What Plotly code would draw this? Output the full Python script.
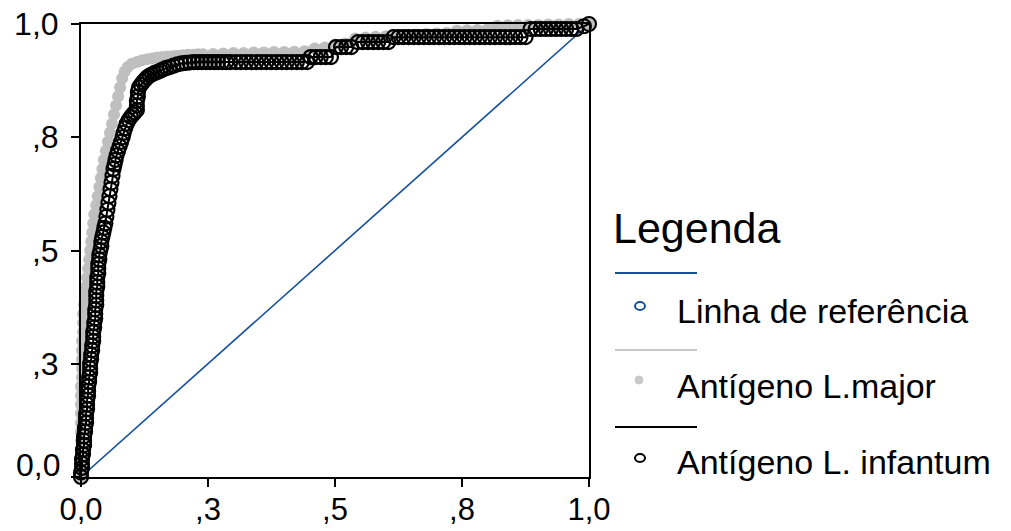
import plotly.graph_objects as go

# ---- data -------------------------------------------------------------
tick_vals = [0, 0.25, 0.5, 0.75, 1.0]
x_tick_text = ["0,0", ",3", ",5", ",8", "1,0"]
y_tick_text = ["", ",3", ",5", ",8", "1,0"]

ref_x = [0.0, 1.0]
ref_y = [0.0, 1.0]

# Antígeno L.major (1 - especificidade, sensibilidade)
major_x = [0.000, 0.000, 0.000, 0.000, 0.000, 0.000, 0.000, 0.000, 0.000, 0.000,
           0.000, 0.002, 0.002, 0.002, 0.002, 0.002, 0.004, 0.004, 0.004, 0.006,
           0.008, 0.010, 0.012, 0.014, 0.016, 0.018, 0.020, 0.022, 0.024, 0.026,
           0.030, 0.033, 0.036, 0.039, 0.042, 0.045, 0.049, 0.053, 0.057, 0.061,
           0.065, 0.069, 0.073, 0.077, 0.081, 0.086, 0.092, 0.100, 0.110, 0.120,
           0.130, 0.140, 0.150, 0.160, 0.170, 0.180, 0.190, 0.200, 0.210, 0.220,
           0.230, 0.240, 0.260, 0.280, 0.300, 0.320, 0.340, 0.360, 0.380, 0.400,
           0.420, 0.440, 0.460, 0.480, 0.500, 0.520, 0.540, 0.560, 0.580, 0.600,
           0.620, 0.640, 0.660, 0.680, 0.700, 0.720, 0.740, 0.760, 0.780, 0.800,
           0.820, 0.840, 0.860, 0.880, 0.900, 0.920, 0.940, 0.960, 0.980, 1.000]
major_y = [0.000, 0.020, 0.040, 0.060, 0.080, 0.100, 0.120, 0.140, 0.160, 0.180,
           0.200, 0.220, 0.240, 0.260, 0.280, 0.300, 0.320, 0.340, 0.360, 0.380,
           0.400, 0.420, 0.440, 0.460, 0.480, 0.500, 0.520, 0.540, 0.560, 0.580,
           0.600, 0.620, 0.640, 0.660, 0.680, 0.700, 0.720, 0.740, 0.760, 0.780,
           0.800, 0.820, 0.840, 0.860, 0.880, 0.895, 0.905, 0.912, 0.916, 0.920,
           0.922, 0.924, 0.926, 0.927, 0.928, 0.929, 0.930, 0.931, 0.932, 0.932,
           0.933, 0.933, 0.934, 0.935, 0.936, 0.936, 0.937, 0.937, 0.938, 0.938,
           0.939, 0.940, 0.946, 0.948, 0.955, 0.957, 0.968, 0.970, 0.972, 0.973,
           0.975, 0.976, 0.977, 0.978, 0.979, 0.980, 0.985, 0.986, 0.987, 0.988,
           0.996, 0.997, 0.998, 0.998, 0.998, 0.999, 0.999, 1.000, 1.000, 1.000]

# Antígeno L. infantum (1 - especificidade, sensibilidade)
infantum_x = [0.000, 0.000, 0.002, 0.002, 0.002, 0.004, 0.004, 0.006, 0.006, 0.006,
              0.008, 0.008, 0.010, 0.010, 0.010, 0.012, 0.012, 0.012, 0.014, 0.014,
              0.014, 0.016, 0.016, 0.018, 0.018, 0.018, 0.020, 0.020, 0.022, 0.022,
              0.024, 0.024, 0.024, 0.026, 0.026, 0.028, 0.028, 0.028, 0.030, 0.030,
              0.030, 0.030, 0.032, 0.032, 0.032, 0.034, 0.034, 0.034, 0.036, 0.036,
              0.038, 0.040, 0.040, 0.042, 0.044, 0.046, 0.048, 0.050, 0.052, 0.054,
              0.056, 0.058, 0.060, 0.062, 0.064, 0.066, 0.068, 0.070, 0.073, 0.076,
              0.079, 0.082, 0.084, 0.087, 0.090, 0.094, 0.098, 0.102, 0.106, 0.110,
              0.110, 0.110, 0.112, 0.112, 0.114, 0.118, 0.122, 0.126, 0.130, 0.135,
              0.140, 0.145, 0.150, 0.156, 0.162, 0.168, 0.175, 0.182, 0.190, 0.198,
              0.206, 0.214, 0.222, 0.230, 0.238, 0.246, 0.254, 0.262, 0.270, 0.278,
              0.286, 0.294, 0.305, 0.315, 0.325, 0.335, 0.345, 0.355, 0.365, 0.375,
              0.385, 0.395, 0.405, 0.415, 0.425, 0.435, 0.445, 0.452, 0.462, 0.472,
              0.482, 0.492, 0.502, 0.512, 0.522, 0.532, 0.545, 0.555, 0.565, 0.575,
              0.585, 0.595, 0.605, 0.615, 0.625, 0.635, 0.645, 0.655, 0.665, 0.675,
              0.685, 0.695, 0.705, 0.715, 0.725, 0.735, 0.745, 0.755, 0.765, 0.775,
              0.785, 0.795, 0.805, 0.815, 0.825, 0.835, 0.845, 0.855, 0.865, 0.875,
              0.885, 0.895, 0.905, 0.915, 0.925, 0.935, 0.945, 0.955, 0.965, 0.975,
              0.990, 1.000]
infantum_y = [0.000, 0.010, 0.020, 0.030, 0.040, 0.050, 0.060, 0.070, 0.080, 0.090,
              0.100, 0.110, 0.120, 0.130, 0.140, 0.150, 0.160, 0.170, 0.180, 0.190,
              0.200, 0.210, 0.220, 0.230, 0.240, 0.250, 0.260, 0.270, 0.280, 0.290,
              0.300, 0.310, 0.320, 0.330, 0.340, 0.350, 0.360, 0.370, 0.380, 0.390,
              0.400, 0.410, 0.420, 0.430, 0.440, 0.450, 0.460, 0.470, 0.480, 0.490,
              0.500, 0.510, 0.520, 0.530, 0.540, 0.550, 0.560, 0.575, 0.590, 0.605,
              0.620, 0.635, 0.650, 0.665, 0.680, 0.690, 0.700, 0.710, 0.720, 0.730,
              0.740, 0.750, 0.760, 0.770, 0.780, 0.788, 0.795, 0.800, 0.805, 0.810,
              0.820, 0.830, 0.840, 0.850, 0.860, 0.866, 0.872, 0.877, 0.882, 0.886,
              0.889, 0.892, 0.894, 0.897, 0.900, 0.903, 0.905, 0.908, 0.911, 0.913,
              0.914, 0.915, 0.916, 0.916, 0.916, 0.916, 0.916, 0.916, 0.916, 0.916,
              0.916, 0.916, 0.916, 0.916, 0.916, 0.916, 0.916, 0.916, 0.916, 0.916,
              0.916, 0.916, 0.916, 0.916, 0.916, 0.916, 0.916, 0.927, 0.927, 0.927,
              0.927, 0.927, 0.949, 0.949, 0.949, 0.949, 0.960, 0.960, 0.960, 0.960,
              0.960, 0.960, 0.960, 0.971, 0.971, 0.971, 0.971, 0.971, 0.971, 0.971,
              0.971, 0.971, 0.971, 0.971, 0.971, 0.971, 0.971, 0.971, 0.971, 0.971,
              0.971, 0.971, 0.971, 0.971, 0.971, 0.971, 0.971, 0.971, 0.971, 0.971,
              0.989, 0.989, 0.989, 0.989, 0.989, 0.989, 0.989, 0.989, 0.989, 0.989,
              0.995, 1.000]

legend_title = "Legenda"
legend_labels = ["Linha de referência", "Antígeno L.major", "Antígeno L. infantum"]

# ---- style ------------------------------------------------------------
W, H = 1011, 531
L, R, T, B = 81, 589, 24, 477  # plot area in pixels
FONT = "Liberation Sans, Arial, sans-serif"
BLUE = "#17509a"
GRAY = "#bfbfbf"
BLACK = "#000000"


def xp(px):
    return (px - L) / (R - L)


def yp(py):
    return (B - py) / (B - T)


fig = go.Figure()

fig.add_trace(go.Scatter(x=ref_x, y=ref_y, mode="lines",
                         line=dict(color=BLUE, width=1.6),
                         showlegend=False, hoverinfo="skip", cliponaxis=False))

fig.add_trace(go.Scatter(x=major_x, y=major_y, mode="lines+markers",
                         line=dict(color=GRAY, width=7),
                         marker=dict(symbol="circle", size=12, color=GRAY,
                                     line=dict(width=0)),
                         showlegend=False, hoverinfo="skip", cliponaxis=False))

fig.add_trace(go.Scatter(x=infantum_x, y=infantum_y, mode="lines+markers",
                         line=dict(color=BLACK, width=2),
                         marker=dict(symbol="circle-open", size=14, color=BLACK,
                                     line=dict(width=2.2, color=BLACK)),
                         showlegend=False, hoverinfo="skip", cliponaxis=False))

axis_common = dict(range=[0, 1], tickvals=tick_vals, showgrid=False,
                   zeroline=False, showline=True, linecolor="black", linewidth=2,
                   mirror=True, ticks="outside", ticklen=8, tickwidth=2,
                   tickcolor="black", automargin=False)

fig.update_xaxes(ticktext=x_tick_text, ticklabelstandoff=-4,
                 tickfont=dict(family=FONT, size=31, color="black"),
                 **axis_common)
fig.update_yaxes(ticktext=y_tick_text, ticklabelstandoff=6,
                 tickfont=dict(family=FONT, size=32, color="black"),
                 **axis_common)

annotations = [
    dict(text="0,0", x=xp(62), y=yp(465), xref="paper", yref="paper",
         xanchor="right", yanchor="middle", showarrow=False,
         font=dict(family=FONT, size=32, color="black")),
    dict(text=legend_title, x=xp(611), y=yp(228), xref="paper", yref="paper",
         xanchor="left", yanchor="middle", showarrow=False,
         font=dict(family=FONT, size=43, color="black")),
]
text_rows = [311, 386, 462]
for lab, py in zip(legend_labels, text_rows):
    annotations.append(dict(text=lab, x=xp(675), y=yp(py), xref="paper",
                            yref="paper", xanchor="left", yanchor="middle",
                            showarrow=False,
                            font=dict(family=FONT, size=34, color="black")))

shapes = []
line_rows = [(273, BLUE), (350, "#c8c8c8"), (427, BLACK)]
for py, col in line_rows:
    shapes.append(dict(type="line", xref="paper", yref="paper",
                       x0=xp(615), x1=xp(697), y0=yp(py), y1=yp(py),
                       line=dict(color=col, width=2)))
# legend symbols
shapes.append(dict(type="circle", xref="paper", yref="paper",
                   x0=xp(635), x1=xp(645), y0=yp(310), y1=yp(302),
                   line=dict(color=BLUE, width=2), fillcolor="white"))
shapes.append(dict(type="circle", xref="paper", yref="paper",
                   x0=xp(635), x1=xp(643), y0=yp(384), y1=yp(376),
                   line=dict(color="#c8c8c8", width=1), fillcolor="#c8c8c8"))
shapes.append(dict(type="circle", xref="paper", yref="paper",
                   x0=xp(635), x1=xp(645), y0=yp(462), y1=yp(454),
                   line=dict(color=BLACK, width=2), fillcolor="white"))

fig.update_layout(width=W, height=H, autosize=False,
                  margin=dict(l=L, r=W - R, t=T, b=H - B, pad=0),
                  paper_bgcolor="white", plot_bgcolor="white",
                  showlegend=False, annotations=annotations, shapes=shapes)

fig.write_html("out.html")
